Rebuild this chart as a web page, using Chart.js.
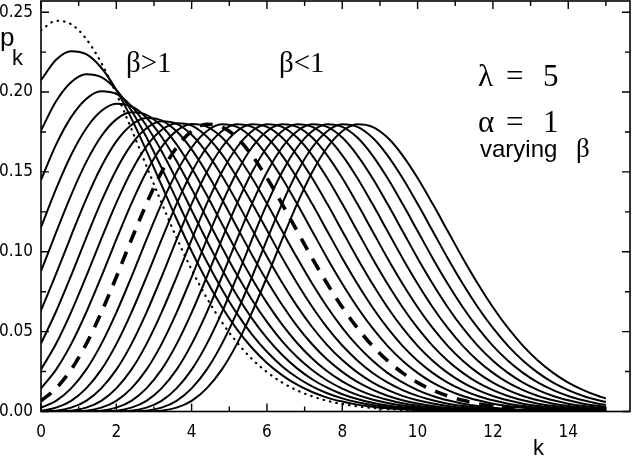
<!DOCTYPE html>
<html>
<head>
<meta charset="utf-8">
<script src="https://cdn.jsdelivr.net/npm/chart.js@4.4.1/dist/chart.umd.min.js"></script>
<style>
  html, body { margin: 0; padding: 0; background: #fff; }
  canvas { display: block; }
</style>
</head>
<body>
<canvas id="pkChart" width="632" height="462"></canvas>
<script>
// k positions where every curve was read (same for all curves)
var kValues = [0, 0.4, 0.8, 1.2, 1.6, 2.0, 2.4, 2.8, 3.2, 3.6, 4.0, 4.4, 4.8, 5.2, 5.6, 6.0,
  6.4, 6.8, 7.2, 7.6, 8.0, 8.4, 8.8, 9.2, 9.6, 10.0, 10.4, 10.8, 11.2, 11.6, 12.0, 12.4,
  12.8, 13.2, 13.6, 14.0, 14.4, 14.8, 15.0];

// dotted curve (top one on the left)
var dottedCurve = [0.2387, 0.2446, 0.2425, 0.2333, 0.2183, 0.1990, 0.1769, 0.1537, 0.1307, 0.1088,
  0.0888, 0.0712, 0.0560, 0.0433, 0.0329, 0.0247, 0.0182, 0.0132, 0.0095, 0.0067, 0.0047, 0.0032,
  0.0022, 0.0015, 0.0010, 0.0006, 0.0004, 0.0003, 0.0002, 0.0001, 0.0001, 0, 0, 0, 0, 0, 0, 0, 0];

// beta > 1 curves, from highest peak downwards
var betaHigh9 = [0.2074, 0.2202, 0.2256, 0.2237, 0.2152, 0.2013, 0.1835, 0.1632, 0.1418, 0.1205,
  0.1003, 0.0819, 0.0656, 0.0516, 0.0399, 0.0304, 0.0228, 0.0168, 0.0122, 0.0087, 0.0062, 0.0043,
  0.0030, 0.0020, 0.0014, 0.0009, 0.0006, 0.0004, 0.0002, 0.0002, 0.0001, 0.0001, 0, 0, 0, 0, 0, 0, 0];
var betaHigh8 = [0.1760, 0.1942, 0.2061, 0.2111, 0.2093, 0.2014, 0.1884, 0.1717, 0.1527, 0.1327,
  0.1128, 0.0939, 0.0767, 0.0614, 0.0483, 0.0374, 0.0284, 0.0213, 0.0157, 0.0114, 0.0082, 0.0058,
  0.0040, 0.0028, 0.0019, 0.0013, 0.0008, 0.0006, 0.0004, 0.0002, 0.0001, 0.0001, 0.0001, 0, 0, 0, 0, 0, 0];
var betaHigh7 = [0.1450, 0.1671, 0.1843, 0.1957, 0.2005, 0.1988, 0.1912, 0.1789, 0.1631, 0.1450,
  0.1260, 0.1071, 0.0892, 0.0728, 0.0583, 0.0459, 0.0355, 0.0270, 0.0202, 0.0149, 0.0108, 0.0078,
  0.0055, 0.0038, 0.0026, 0.0018, 0.0012, 0.0008, 0.0005, 0.0003, 0.0002, 0.0001, 0.0001, 0.0001, 0, 0, 0, 0, 0];
var betaHigh6 = [0.1153, 0.1394, 0.1606, 0.1772, 0.1881, 0.1927, 0.1911, 0.1839, 0.1720, 0.1568,
  0.1394, 0.1211, 0.1030, 0.0857, 0.0700, 0.0561, 0.0441, 0.0341, 0.0260, 0.0194, 0.0143, 0.0104,
  0.0075, 0.0053, 0.0037, 0.0025, 0.0017, 0.0012, 0.0008, 0.0005, 0.0003, 0.0002, 0.0001, 0.0001, 0.0001, 0, 0, 0, 0];
var betaHigh5 = [0.0878, 0.1121, 0.1355, 0.1561, 0.1723, 0.1829, 0.1873, 0.1857, 0.1787, 0.1672,
  0.1524, 0.1355, 0.1177, 0.1001, 0.0833, 0.0680, 0.0545, 0.0429, 0.0332, 0.0252, 0.0189, 0.0139,
  0.0101, 0.0073, 0.0051, 0.0036, 0.0025, 0.0017, 0.0011, 0.0007, 0.0005, 0.0003, 0.0002, 0.0001, 0.0001, 0.0001, 0, 0, 0];
var betaHigh4 = [0.0633, 0.0861, 0.1100, 0.1330, 0.1532, 0.1691, 0.1794, 0.1838, 0.1823, 0.1754,
  0.1641, 0.1495, 0.1330, 0.1155, 0.0982, 0.0818, 0.0668, 0.0535, 0.0421, 0.0325, 0.0248, 0.0185,
  0.0137, 0.0099, 0.0071, 0.0050, 0.0035, 0.0024, 0.0016, 0.0011, 0.0007, 0.0005, 0.0003, 0.0002, 0.0001, 0.0001, 0, 0, 0];
var betaHigh3 = [0.0426, 0.0626, 0.0851, 0.1087, 0.1314, 0.1514, 0.1671, 0.1773, 0.1817, 0.1801,
  0.1733, 0.1621, 0.1478, 0.1314, 0.1142, 0.0971, 0.0808, 0.0660, 0.0529, 0.0416, 0.0322, 0.0245,
  0.0183, 0.0135, 0.0098, 0.0070, 0.0050, 0.0035, 0.0024, 0.0016, 0.0011, 0.0007, 0.0005, 0.0003, 0.0002, 0.0001, 0.0001, 0, 0];
var betaHigh2 = [0.0263, 0.0424, 0.0622, 0.0846, 0.1080, 0.1306, 0.1504, 0.1660, 0.1762, 0.1805,
  0.1790, 0.1722, 0.1611, 0.1468, 0.1306, 0.1135, 0.0964, 0.0803, 0.0656, 0.0525, 0.0413, 0.0320,
  0.0243, 0.0182, 0.0134, 0.0098, 0.0070, 0.0049, 0.0034, 0.0024, 0.0016, 0.0011, 0.0007, 0.0005, 0.0003, 0.0002, 0.0001, 0.0001, 0.0001];
var betaHigh1 = [0.0145, 0.0262, 0.0422, 0.0620, 0.0843, 0.1077, 0.1302, 0.1500, 0.1655, 0.1757,
  0.1800, 0.1784, 0.1717, 0.1606, 0.1464, 0.1302, 0.1131, 0.0962, 0.0801, 0.0654, 0.0524, 0.0412,
  0.0319, 0.0242, 0.0182, 0.0134, 0.0097, 0.0070, 0.0049, 0.0034, 0.0024, 0.0016, 0.0011, 0.0007, 0.0005, 0.0003, 0.0002, 0.0001, 0.0001];

// beta = 1, the thick dashed curve
var dashedCurve = [0.0067, 0.0145, 0.0262, 0.0422, 0.0619, 0.0842, 0.1076, 0.1300, 0.1498, 0.1653,
  0.1755, 0.1798, 0.1782, 0.1715, 0.1604, 0.1462, 0.1300, 0.1130, 0.0960, 0.0800, 0.0653, 0.0523,
  0.0411, 0.0318, 0.0242, 0.0181, 0.0134, 0.0097, 0.0070, 0.0049, 0.0034, 0.0024, 0.0016, 0.0011, 0.0007, 0.0005, 0.0003, 0.0002, 0.0002];

// beta < 1 curves, moving right
var betaLow1 = [0.0024, 0.0067, 0.0145, 0.0262, 0.0422, 0.0619, 0.0842, 0.1076, 0.1300, 0.1498,
  0.1653, 0.1755, 0.1798, 0.1782, 0.1715, 0.1604, 0.1462, 0.1300, 0.1130, 0.0960, 0.0800, 0.0653,
  0.0523, 0.0411, 0.0318, 0.0242, 0.0181, 0.0134, 0.0097, 0.0070, 0.0049, 0.0034, 0.0024, 0.0016, 0.0011, 0.0007, 0.0005, 0.0003, 0.0002];
var betaLow2 = [0.0004, 0.0024, 0.0067, 0.0145, 0.0262, 0.0422, 0.0619, 0.0842, 0.1076, 0.1300,
  0.1498, 0.1653, 0.1755, 0.1798, 0.1782, 0.1715, 0.1604, 0.1462, 0.1300, 0.1130, 0.0960, 0.0800,
  0.0653, 0.0523, 0.0411, 0.0318, 0.0242, 0.0181, 0.0134, 0.0097, 0.0070, 0.0049, 0.0034, 0.0024, 0.0016, 0.0011, 0.0007, 0.0005, 0.0004];
var betaLow3 = [0, 0.0004, 0.0024, 0.0067, 0.0145, 0.0262, 0.0422, 0.0619, 0.0842, 0.1076,
  0.1300, 0.1498, 0.1653, 0.1755, 0.1798, 0.1782, 0.1715, 0.1604, 0.1462, 0.1300, 0.1130, 0.0960,
  0.0800, 0.0653, 0.0523, 0.0411, 0.0318, 0.0242, 0.0181, 0.0134, 0.0097, 0.0070, 0.0049, 0.0034, 0.0024, 0.0016, 0.0011, 0.0007, 0.0006];
var betaLow4 = [0, 0, 0.0004, 0.0024, 0.0067, 0.0145, 0.0262, 0.0422, 0.0619, 0.0842,
  0.1076, 0.1300, 0.1498, 0.1653, 0.1755, 0.1798, 0.1782, 0.1715, 0.1604, 0.1462, 0.1300, 0.1130,
  0.0960, 0.0800, 0.0653, 0.0523, 0.0411, 0.0318, 0.0242, 0.0181, 0.0134, 0.0097, 0.0070, 0.0049, 0.0034, 0.0024, 0.0016, 0.0011, 0.0009];
var betaLow5 = [0, 0, 0, 0.0004, 0.0024, 0.0067, 0.0145, 0.0262, 0.0422, 0.0619,
  0.0842, 0.1076, 0.1300, 0.1498, 0.1653, 0.1755, 0.1798, 0.1782, 0.1715, 0.1604, 0.1462, 0.1300,
  0.1130, 0.0960, 0.0800, 0.0653, 0.0523, 0.0411, 0.0318, 0.0242, 0.0181, 0.0134, 0.0097, 0.0070, 0.0049, 0.0034, 0.0024, 0.0016, 0.0013];
var betaLow6 = [0, 0, 0, 0, 0.0004, 0.0024, 0.0067, 0.0145, 0.0262, 0.0422,
  0.0619, 0.0842, 0.1076, 0.1300, 0.1498, 0.1653, 0.1755, 0.1798, 0.1782, 0.1715, 0.1604, 0.1462,
  0.1300, 0.1130, 0.0960, 0.0800, 0.0653, 0.0523, 0.0411, 0.0318, 0.0242, 0.0181, 0.0134, 0.0097, 0.0070, 0.0049, 0.0034, 0.0024, 0.0020];
var betaLow7 = [0, 0, 0, 0, 0, 0.0004, 0.0024, 0.0067, 0.0145, 0.0262,
  0.0422, 0.0619, 0.0842, 0.1076, 0.1300, 0.1498, 0.1653, 0.1755, 0.1798, 0.1782, 0.1715, 0.1604,
  0.1462, 0.1300, 0.1130, 0.0960, 0.0800, 0.0653, 0.0523, 0.0411, 0.0318, 0.0242, 0.0181, 0.0134, 0.0097, 0.0070, 0.0049, 0.0034, 0.0029];
var betaLow8 = [0, 0, 0, 0, 0, 0, 0.0004, 0.0024, 0.0067, 0.0145,
  0.0262, 0.0422, 0.0619, 0.0842, 0.1076, 0.1300, 0.1498, 0.1653, 0.1755, 0.1798, 0.1782, 0.1715,
  0.1604, 0.1462, 0.1300, 0.1130, 0.0960, 0.0800, 0.0653, 0.0523, 0.0411, 0.0318, 0.0242, 0.0181, 0.0134, 0.0097, 0.0070, 0.0049, 0.0041];
var betaLow9 = [0, 0, 0, 0, 0, 0, 0, 0.0004, 0.0024, 0.0067,
  0.0145, 0.0262, 0.0422, 0.0619, 0.0842, 0.1076, 0.1300, 0.1498, 0.1653, 0.1755, 0.1798, 0.1782,
  0.1715, 0.1604, 0.1462, 0.1300, 0.1130, 0.0960, 0.0800, 0.0653, 0.0523, 0.0411, 0.0318, 0.0242, 0.0181, 0.0134, 0.0097, 0.0070, 0.0059];
var betaLow10 = [0, 0, 0, 0, 0, 0, 0, 0, 0.0004, 0.0024,
  0.0067, 0.0145, 0.0262, 0.0422, 0.0619, 0.0842, 0.1076, 0.1300, 0.1498, 0.1653, 0.1755, 0.1798,
  0.1782, 0.1715, 0.1604, 0.1462, 0.1300, 0.1130, 0.0960, 0.0800, 0.0653, 0.0523, 0.0411, 0.0318, 0.0242, 0.0181, 0.0134, 0.0097, 0.0082];

var solidCurves = [betaHigh9, betaHigh8, betaHigh7, betaHigh6, betaHigh5, betaHigh4, betaHigh3,
  betaHigh2, betaHigh1, betaLow1, betaLow2, betaLow3, betaLow4, betaLow5, betaLow6, betaLow7,
  betaLow8, betaLow9, betaLow10];

var xTicks = [0, 2, 4, 6, 8, 10, 12, 14];
var yTicks = [0, 0.05, 0.10, 0.15, 0.20, 0.25];

var numFont = '"DejaVu Sans Condensed", "Liberation Sans", Arial, sans-serif';
var serifFont = '"Liberation Serif", "Times New Roman", serif';
var sansFont = '"Liberation Sans", Arial, sans-serif';

function toPoints(values) {
  return values.map(function (v, i) { return { x: kValues[i], y: v }; });
}

var datasets = [];
solidCurves.forEach(function (c) {
  datasets.push({ data: toPoints(c), borderColor: '#000', borderWidth: 2 });
});
datasets.push({ data: toPoints(dashedCurve), borderColor: '#000', borderWidth: 3.6, borderDash: [13, 10] });
datasets.push({ data: toPoints(dottedCurve), borderColor: '#000', borderWidth: 2.2, borderDash: [0.5, 6], borderCapStyle: 'round' });

// frame, inward ticks and the text labels
var framePlugin = {
  id: 'frame',
  afterDraw: function (chart) {
    var ctx = chart.ctx;
    var a = chart.chartArea;
    var xs = chart.scales.x;
    var ys = chart.scales.y;
    ctx.save();
    ctx.strokeStyle = '#000';
    ctx.lineWidth = 1.6;
    ctx.strokeRect(a.left, a.top, a.right - a.left, a.bottom - a.top);
    ctx.lineWidth = 1.4;
    ctx.beginPath();
    for (var k = 0; k <= 15; k++) {
      var px = xs.getPixelForValue(k);
      var len = (k % 2 === 0) ? 8 : 5;
      ctx.moveTo(px, a.bottom); ctx.lineTo(px, a.bottom - len);
      ctx.moveTo(px, a.top); ctx.lineTo(px, a.top + len);
    }
    for (var j = 0; j <= 10; j++) {
      var py = ys.getPixelForValue(j * 0.025);
      var l2 = (j % 2 === 0) ? 8 : 5;
      ctx.moveTo(a.left, py); ctx.lineTo(a.left + l2, py);
      ctx.moveTo(a.right, py); ctx.lineTo(a.right - l2, py);
    }
    ctx.stroke();

    ctx.fillStyle = '#000';
    ctx.textBaseline = 'alphabetic';
    ctx.textAlign = 'left';
    // axis titles
    ctx.font = '26px ' + sansFont;
    ctx.fillText('p', 0, 46);
    ctx.font = '22px ' + sansFont;
    ctx.fillText('k', 12, 65);
    ctx.fillText('k', 533, 455);
    // annotations
    ctx.font = '29px ' + serifFont;
    ctx.fillText('\u03B2>1', 126, 72);
    ctx.fillText('\u03B2<1', 279, 72);
    ctx.font = '31px ' + serifFont;
    ctx.fillText('\u03BB', 478, 86);
    ctx.fillText('=', 506, 86);
    ctx.fillText('5', 543, 86);
    ctx.fillText('\u03B1', 478, 132);
    ctx.fillText('=', 506, 132);
    ctx.fillText('1', 543, 132);
    ctx.font = '24px ' + sansFont;
    ctx.fillText('varying', 480, 157);
    ctx.font = '27px ' + serifFont;
    ctx.fillText('\u03B2', 576, 157);
    ctx.restore();
  }
};

function noPad(s) {
  s.paddingTop = 0; s.paddingBottom = 0; s.paddingLeft = 0; s.paddingRight = 0;
}

var chart = new Chart(document.getElementById('pkChart').getContext('2d'), {
  type: 'line',
  data: { datasets: datasets },
  options: {
    responsive: false,
    animation: false,
    devicePixelRatio: 1,
    layout: { padding: { top: 1, right: 2, left: 0, bottom: 0 } },
    plugins: { legend: { display: false }, tooltip: { enabled: false } },
    elements: {
      point: { radius: 0 },
      line: { cubicInterpolationMode: 'monotone', fill: false }
    },
    scales: {
      x: {
        type: 'linear', min: 0, max: 15.64,
        afterFit: function (s) { s.height = 50.5; noPad(s); },
        afterBuildTicks: function (s) { s.ticks = xTicks.map(function (v) { return { value: v }; }); },
        grid: { display: false, drawTicks: false },
        border: { display: false },
        ticks: { padding: 11, color: '#000', maxRotation: 0, autoSkip: false,
          font: { family: numFont, size: 17 } }
      },
      y: {
        type: 'linear', min: 0, max: 0.257,
        afterFit: function (s) { s.width = 41; noPad(s); },
        afterBuildTicks: function (s) { s.ticks = yTicks.map(function (v) { return { value: v }; }); },
        grid: { display: false, drawTicks: false },
        border: { display: false },
        ticks: { padding: 8, color: '#000', autoSkip: false,
          font: { family: numFont, size: 17 },
          callback: function (v) { return Number(v).toFixed(2); } }
      }
    }
  },
  plugins: [framePlugin]
});
</script>
</body>
</html>
